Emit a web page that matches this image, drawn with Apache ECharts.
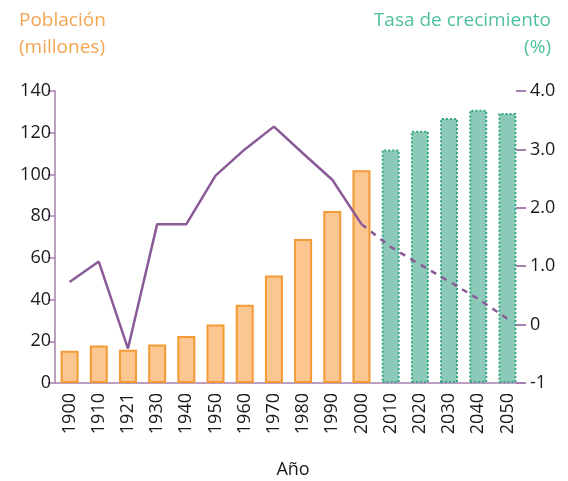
<!DOCTYPE html>
<html>
<head>
<meta charset="utf-8">
<script src="https://cdn.jsdelivr.net/npm/echarts@6/dist/echarts.min.js"></script>
<style>
  html, body { margin: 0; padding: 0; background: #fff; }
  #chart { width: 568px; height: 481px; }
</style>
</head>
<body>
<div id="chart"></div>
<script>
// Years shown on the horizontal axis
const years = ['1900','1910','1921','1930','1940','1950','1960','1970','1980','1990','2000','2010','2020','2030','2040','2050'];

// Population in millions: census values, then projections
const populationHistoric = [15.5, 18, 16, 18.5, 22.5, 28, 37.5, 51.5, 69, 82.5, 102, null, null, null, null, null];
const populationProjected = [null, null, null, null, null, null, null, null, null, null, null, 112, 121, 127, 131, 129.5];

// Annual growth rate (%): observed, then projected
const growthObserved = [0.73, 1.08, -0.41, 1.72, 1.72, 2.55, 3.0, 3.39, 2.93, 2.48, 1.72, null, null, null, null, null];
const growthProjected = [null, null, null, null, null, null, null, null, null, null, 1.72, 1.33, 1.03, 0.74, 0.44, 0.1];

// Tick labels
const leftTicks = ['0','20','40','60','80','100','120','140'];
const rightTicks = ['-1','0','1.0','2.0','3.0','4.0'];

const FONT = '"Open Sans", "Noto Sans", sans-serif';
const AXIS_PURPLE = '#a77fae';
const LINE_PURPLE = '#8a5a98';
const TEXT_DARK = '#1a1a1a';
const TITLE_ORANGE = '#f5a552';
const TITLE_TEAL = '#4fbf9f';

const chart = echarts.init(document.getElementById('chart'), null, { renderer: 'canvas' });

const titleStyle = (color) => ({ color, fontSize: 19, fontWeight: 'normal', fontFamily: FONT });

chart.setOption({
  animation: false,
  backgroundColor: '#ffffff',
  textStyle: { fontFamily: FONT },
  title: [
    { text: 'Población', left: 14, top: 6, textStyle: titleStyle(TITLE_ORANGE) },
    { text: '(millones)', left: 14, top: 33, textStyle: titleStyle(TITLE_ORANGE) },
    { text: 'Tasa de crecimiento', right: 12, top: 6, textStyle: titleStyle(TITLE_TEAL) },
    { text: '(%)', right: 12, top: 33, textStyle: titleStyle(TITLE_TEAL) },
    {
      text: 'Año',
      left: 288, top: 456,
      textAlign: 'center',
      textStyle: { color: TEXT_DARK, fontSize: 18, fontWeight: 'normal', fontFamily: FONT }
    }
  ],
  grid: { left: 55, right: 46, top: 91, bottom: 98, containLabel: false },
  xAxis: {
    type: 'category',
    data: years,
    axisLine: { show: true, lineStyle: { color: AXIS_PURPLE, width: 1.5 } },
    axisTick: { show: false },
    axisLabel: { rotate: 90, color: TEXT_DARK, fontSize: 18, margin: 10, fontFamily: FONT }
  },
  yAxis: [
    {
      type: 'value',
      min: 0, max: 140, interval: 20,
      position: 'left',
      axisLine: { show: true, lineStyle: { color: AXIS_PURPLE, width: 1.5 } },
      axisTick: { show: true, length: 7, lineStyle: { color: AXIS_PURPLE, width: 1.5 } },
      axisLabel: {
        color: TEXT_DARK, fontSize: 18, margin: 4, fontFamily: FONT,
        formatter: (v) => leftTicks[Math.round(v / 20)]
      },
      splitLine: { show: false }
    },
    {
      type: 'value',
      min: -1, max: 4, interval: 1,
      position: 'right',
      offset: -6,
      axisLine: { show: false },
      axisTick: { show: true, length: 10, lineStyle: { color: AXIS_PURPLE, width: 2 } },
      axisLabel: {
        color: TEXT_DARK, fontSize: 18, margin: 14, fontFamily: FONT,
        formatter: (v) => rightTicks[Math.round(v + 1)]
      },
      splitLine: { show: false }
    }
  ],
  series: [
    {
      name: 'Población',
      type: 'bar',
      data: populationHistoric,
      barWidth: 18,
      barGap: '-100%',
      itemStyle: { color: '#fcc690', borderColor: '#f39a35', borderWidth: 2 },
      z: 2
    },
    {
      name: 'Población proyectada',
      type: 'bar',
      data: populationProjected,
      barWidth: 18,
      barGap: '-100%',
      itemStyle: { color: '#8cc9b8', borderColor: '#35a684', borderWidth: 2, borderType: 'dotted' },
      z: 2
    },
    {
      name: 'Tasa de crecimiento',
      type: 'line',
      yAxisIndex: 1,
      data: growthObserved,
      symbol: 'none',
      lineStyle: { color: LINE_PURPLE, width: 2.5 },
      z: 5
    },
    {
      name: 'Tasa proyectada',
      type: 'line',
      yAxisIndex: 1,
      data: growthProjected,
      symbol: 'none',
      lineStyle: { color: LINE_PURPLE, width: 2.5, type: [6, 6] },
      z: 5
    }
  ]
});
</script>
</body>
</html>
